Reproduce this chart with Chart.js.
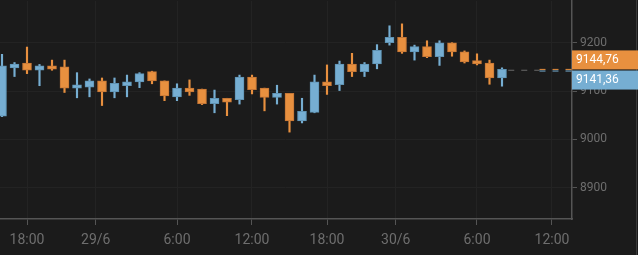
<!DOCTYPE html>
<html>
<head>
<meta charset="utf-8">
<script src="https://cdn.jsdelivr.net/npm/chart.js@4.4.1/dist/chart.umd.min.js"></script>
<style>
  html, body { margin: 0; padding: 0; background: #1b1b1b; overflow: hidden; }
  #chart { display: block; }
</style>
</head>
<body>
<canvas id="chart" width="638" height="255"></canvas>
<script>
// hourly candles, hour 0 = 28/6 00:00
var hours  = [16,17,18,19,20,21,22,23,24,25,26,27,28,29,30,31,32,33,34,35,36,37,38,39,40,41,42,43,44,45,46,47,48,49,50,51,52,53,54,55,56];
var opens  = [9048,9148,9158,9143,9152,9150,9106,9108,9121,9098,9111,9119,9140,9121,9088,9106,9104,9074,9085,9082,9129,9106,9087,9095,9038,9056,9119,9113,9156,9140,9156,9200,9211,9181,9192,9171,9200,9181,9163,9158,9127];
var highs  = [9176,9159,9191,9155,9164,9164,9138,9125,9127,9127,9133,9138,9141,9121,9115,9123,9104,9102,9085,9133,9133,9106,9112,9095,9085,9133,9154,9162,9178,9159,9196,9235,9239,9195,9204,9204,9200,9183,9177,9164,9148];
var lows   = [9047,9130,9136,9111,9143,9097,9086,9088,9070,9086,9088,9107,9115,9080,9080,9091,9072,9055,9049,9073,9094,9059,9073,9015,9034,9055,9093,9101,9130,9130,9146,9195,9178,9164,9169,9153,9172,9158,9154,9114,9110];
var closes = [9152,9156,9143,9152,9145,9106,9113,9121,9098,9116,9119,9136,9121,9090,9106,9098,9074,9085,9077,9129,9103,9087,9095,9038,9058,9119,9111,9156,9140,9156,9184,9211,9181,9192,9171,9200,9181,9160,9156,9127,9144.76];

var tickHours  = [18, 23.5, 30, 36, 42, 47.5, 54, 60];
var tickLabels = ['18:00', '29/6', '6:00', '12:00', '18:00', '30/6', '6:00', '12:00'];
var priceTicks = [8900, 9000, 9100, 9200];

var askPrice = 9144.76;
var bidPrice = 9141.36;
var lastLine = 9143;

var ORANGE = '#e8903f';
var BLUE = '#76aed2';

function candleColor(ctx) {
  var i = ctx.dataIndex;
  return closes[i] >= opens[i] ? BLUE : ORANGE;
}
function candleBorder(ctx) {
  var i = ctx.dataIndex;
  return closes[i] >= opens[i] ? '#5f93b4' : '#c47636';
}

var priceTags = {
  id: 'priceTags',
  afterDraw: function(chart) {
    var c = chart.ctx, y = chart.scales.y, area = chart.chartArea;
    c.save();
    c.fillStyle = '#3a3a3a';
    c.fillRect(636, 0, 1, chart.height);
    var ya = y.getPixelForValue(askPrice);
    var yb = y.getPixelForValue(bidPrice);
    c.fillStyle = ORANGE;
    c.fillRect(area.right, ya - 19, chart.width - area.right, 19);
    c.fillStyle = BLUE;
    c.fillRect(area.right, yb - 0.5, chart.width - area.right, 19);
    c.fillStyle = '#ffffff';
    c.font = '12px Roboto';
    c.textBaseline = 'middle';
    c.fillText(askPrice.toFixed(2).replace('.', ','), area.right + 4, ya - 9.5);
    c.fillText(bidPrice.toFixed(2).replace('.', ','), area.right + 4, yb + 9);
    c.restore();
  }
};

new Chart(document.getElementById('chart'), {
  type: 'bar',
  data: {
    datasets: [
      {
        label: 'body',
        data: hours.map(function(h, i) { return { x: h, y: [opens[i], closes[i]] }; }),
        backgroundColor: candleColor,
        borderColor: candleBorder,
        borderWidth: 1,
        borderSkipped: false,
        barThickness: 9,
        minBarLength: 2,
        grouped: false
      },
      {
        label: 'wick',
        data: hours.map(function(h, i) { return { x: h, y: [lows[i], highs[i]] }; }),
        backgroundColor: candleColor,
        borderWidth: 0,
        barThickness: 1.5,
        grouped: false
      },
      {
        type: 'line',
        label: 'last',
        data: [{ x: 56.5, y: lastLine }, { x: 59, y: lastLine }],
        borderColor: '#6a6a6a',
        borderWidth: 1,
        borderDash: [6, 7],
        pointRadius: 0
      },
      {
        type: 'line',
        label: 'ask',
        data: [{ x: 59, y: askPrice }, { x: 61.6, y: askPrice }],
        borderColor: ORANGE,
        borderWidth: 1,
        borderDash: [6, 7],
        pointRadius: 0
      },
      {
        type: 'line',
        label: 'bid',
        data: [{ x: 59, y: bidPrice }, { x: 61.6, y: bidPrice }],
        borderColor: BLUE,
        borderWidth: 1,
        borderDash: [6, 7],
        pointRadius: 0
      }
    ]
  },
  options: {
    responsive: false,
    animation: false,
    devicePixelRatio: 1,
    layout: { padding: { top: 1, left: 0, right: 0, bottom: 0 } },
    plugins: { legend: { display: false }, tooltip: { enabled: false } },
    scales: {
      x: {
        type: 'linear',
        min: 15.84,
        max: 61.6,
        offset: false,
        afterBuildTicks: function(scale) {
          scale.ticks = tickHours.map(function(v) { return { value: v }; });
        },
        afterFit: function(scale) {
          scale.height = 36;
          scale.paddingLeft = 0;
          scale.paddingRight = 0;
        },
        ticks: {
          autoSkip: false,
          maxRotation: 0,
          padding: 7,
          color: '#6e6e6e',
          font: { family: 'Roboto', size: 14 },
          callback: function(v, i) { return tickLabels[i]; }
        },
        grid: { color: '#232323', tickColor: '#555555', tickLength: 6, offset: false },
        border: { color: '#555555', width: 1.5 }
      },
      y: {
        position: 'right',
        min: 8835.2,
        max: 9286.3,
        afterBuildTicks: function(scale) {
          scale.ticks = priceTicks.map(function(v) { return { value: v }; });
        },
        afterFit: function(scale) {
          scale.width = 66;
          scale.paddingTop = 0;
          scale.paddingBottom = 0;
        },
        ticks: {
          padding: 3,
          color: '#6e6e6e',
          font: { family: 'Roboto', size: 12 },
          callback: function(v) { return v; }
        },
        grid: { color: '#232323', tickColor: '#555555', tickLength: 5 },
        border: { color: '#555555', width: 1.5 }
      }
    }
  },
  plugins: [priceTags]
});
</script>
</body>
</html>
